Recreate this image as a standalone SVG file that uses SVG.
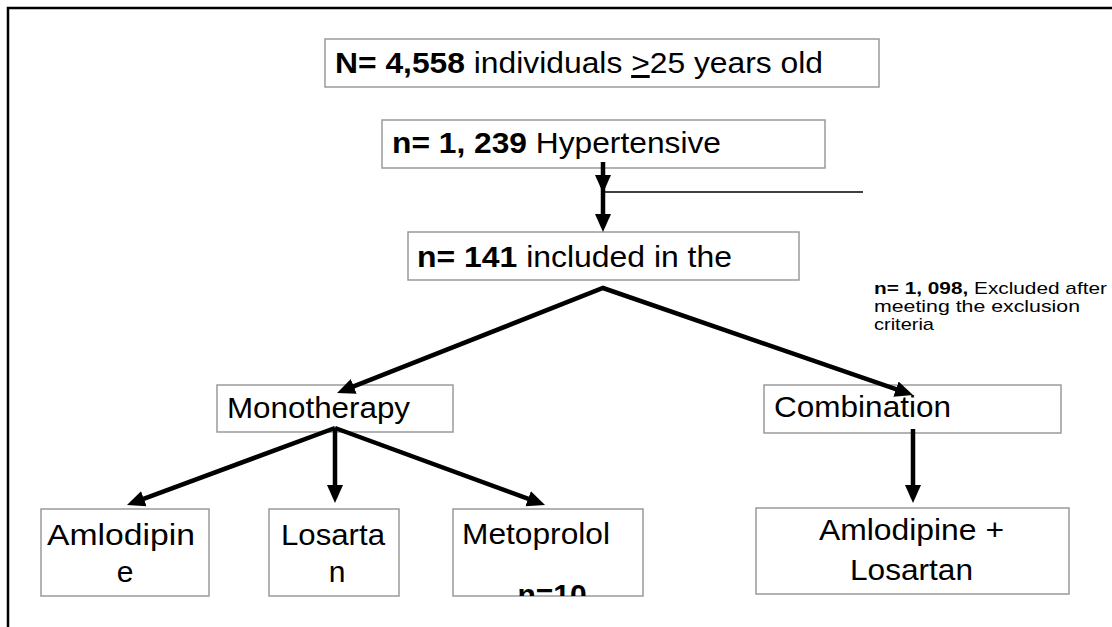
<svg xmlns="http://www.w3.org/2000/svg" width="1112" height="627" viewBox="0 0 1112 627">
<style>
  .box { fill: #ffffff; stroke: #9a9a9a; stroke-width: 1.5; }
  .t { font-family: "Liberation Sans", Arial, Helvetica, sans-serif; font-size: 30px; fill: #000; }
  .s { font-family: "Liberation Sans", Arial, Helvetica, sans-serif; font-size: 17px; fill: #000; }
  .b { font-weight: bold; }
  .arr { fill: none; stroke: #000; stroke-width: 4.5; stroke-linejoin: miter; marker-end: url(#ah); }
  .thin { fill: none; stroke: #000; stroke-width: 1.5; }
  .frame { fill: none; stroke: #000; stroke-width: 2.5; }
</style>
<defs>
  <marker id="ah" markerUnits="userSpaceOnUse" markerWidth="18" markerHeight="18" refX="9" refY="9" orient="auto-start-reverse" viewBox="0 0 18 18">
    <path d="M0,1 L18,9 L0,17 Z" fill="#000"/>
  </marker>
  <clipPath id="clipMeto">
    <rect x="453" y="509" width="190" height="87"/>
  </clipPath>
</defs>
<rect width="1112" height="627" fill="#ffffff"/>
<path class="frame" d="M8,627 V8 H1112"/>

<g id="node-total">
  <rect class="box" x="325" y="39" width="554" height="48"/>
  <text class="t" x="335" y="73" textLength="488" lengthAdjust="spacingAndGlyphs"><tspan class="b">N= 4,558</tspan> individuals <tspan text-decoration="underline">&gt;</tspan>25 years old</text>
</g>

<g id="node-hypertensive">
  <rect class="box" x="382" y="120" width="443" height="48"/>
  <text class="t" x="392" y="153" textLength="329" lengthAdjust="spacingAndGlyphs"><tspan class="b">n= 1, 239</tspan> Hypertensive</text>
</g>

<g id="node-included">
  <rect class="box" x="408" y="232" width="391" height="48"/>
  <text class="t" x="417" y="267" textLength="315" lengthAdjust="spacingAndGlyphs"><tspan class="b">n= 141</tspan> included in the</text>
</g>

<g id="node-excluded">
  <text class="s" x="874" y="294" textLength="233" lengthAdjust="spacingAndGlyphs"><tspan class="b">n= 1, 098,</tspan> Excluded after</text>
  <text class="s" x="874" y="312" textLength="206" lengthAdjust="spacingAndGlyphs">meeting the exclusion</text>
  <text class="s" x="874" y="330" textLength="60" lengthAdjust="spacingAndGlyphs">criteria</text>
</g>

<g id="node-monotherapy">
  <rect class="box" x="217" y="385" width="236" height="47"/>
  <text class="t" x="227" y="418" textLength="183" lengthAdjust="spacingAndGlyphs">Monotherapy</text>
</g>

<g id="node-combination">
  <rect class="box" x="764" y="385" width="297" height="48"/>
  <text class="t" x="774" y="417" textLength="177" lengthAdjust="spacingAndGlyphs">Combination</text>
</g>

<g id="node-amlodipine">
  <rect class="box" x="41" y="509" width="168" height="87"/>
  <text class="t" x="47" y="545" textLength="148" lengthAdjust="spacingAndGlyphs">Amlodipin</text>
  <text class="t" x="125" y="582" text-anchor="middle">e</text>
</g>

<g id="node-losartan">
  <rect class="box" x="269" y="509" width="130" height="87"/>
  <text class="t" x="281" y="545" textLength="104" lengthAdjust="spacingAndGlyphs">Losarta</text>
  <text class="t" x="337" y="582" text-anchor="middle">n</text>
</g>

<g id="node-metoprolol">
  <rect class="box" x="453" y="509" width="190" height="87"/>
  <text class="t" x="462" y="544" textLength="148" lengthAdjust="spacingAndGlyphs">Metoprolol</text>
  <g clip-path="url(#clipMeto)">
    <text class="t b" x="552" y="605" text-anchor="middle">n=10</text>
  </g>
</g>

<g id="node-combo-drugs">
  <rect class="box" x="756" y="508" width="313" height="86"/>
  <text class="t" x="819" y="540" textLength="185" lengthAdjust="spacingAndGlyphs">Amlodipine +</text>
  <text class="t" x="850" y="580" textLength="123" lengthAdjust="spacingAndGlyphs">Losartan</text>
</g>

<g id="connectors">
  <line class="arr" x1="603" y1="162" x2="603" y2="184"/>
  <line class="arr" x1="603" y1="184" x2="603" y2="223"/>
  <line class="thin" x1="603" y1="192" x2="863" y2="192"/>
  <path class="arr" style="marker-start:url(#ah)" d="M345.4,389.7 L603,288 L904.5,392.1"/>
  <line class="arr" x1="335" y1="428" x2="135.4" y2="501.9"/>
  <line class="arr" x1="335" y1="428" x2="335" y2="494"/>
  <line class="arr" x1="335" y1="428" x2="536.6" y2="501.9"/>
  <line class="arr" x1="913" y1="429" x2="913" y2="494"/>
</g>
</svg>
